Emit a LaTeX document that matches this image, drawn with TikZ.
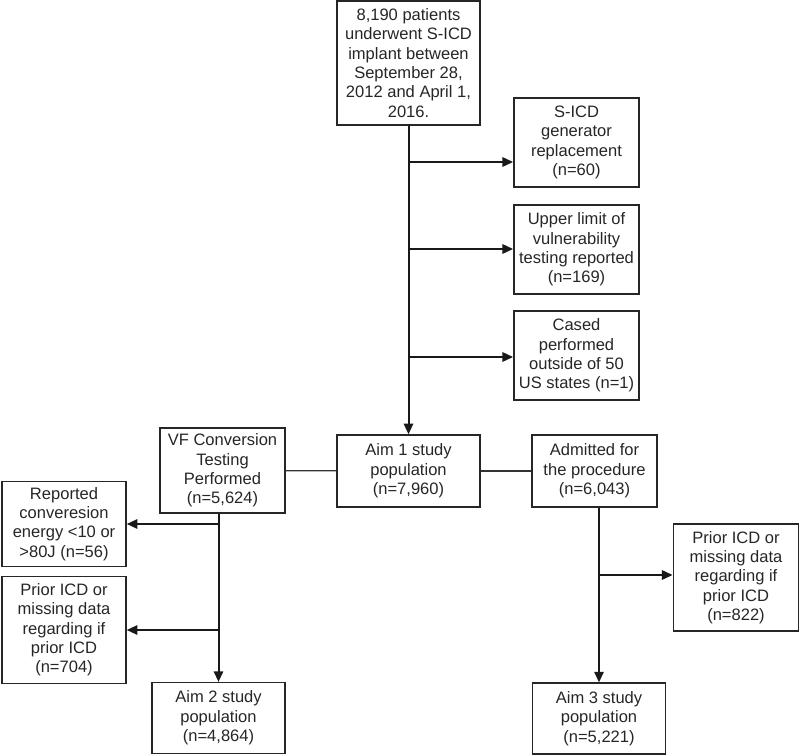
\documentclass[tikz,border=0pt]{standalone}
\usepackage{fontspec}
\setmainfont{Liberation Sans}
\usepackage{tikz}
\usetikzlibrary{arrows.meta,positioning,calc}

\begin{document}
\begin{tikzpicture}[x=0.75pt, y=-0.75pt, >={Triangle[length=8pt,width=7pt]},
    box/.style={draw=black!85,line width=1.1pt,align=center,inner sep=0pt,
      font=\fontsize{12.4}{14.5}\selectfont,text=black!85},
    trunk/.style={line width=1.5pt,draw=black!90},
    link/.style={line width=0.9pt,draw=black!80}]
  \useasboundingbox (0,0) rectangle (800,756);
  % main column
  \node[box,minimum width=107pt,minimum height=93pt] at (408.5,63) (start)
    {8,190 patients\\underwent S-ICD\\implant between\\September 28,\\2012 and April 1,\\2016.};
  \node[box,minimum width=94pt,minimum height=67pt] at (576.5,142.5) (gen)
    {S-ICD\\generator\\replacement\\(n=60)};
  \node[box,minimum width=94pt,minimum height=67pt] at (576.5,249.5) (ulv)
    {Upper limit of\\vulnerability\\testing reported\\(n=169)};
  \node[box,minimum width=94pt,minimum height=67pt] at (576.5,355.5) (outus)
    {Cased\\performed\\outside of 50\\US states (n=1)};
  \node[box,minimum width=107pt,minimum height=54pt] at (408.5,471) (aim1)
    {Aim 1 study\\population\\(n=7,960)};
  % left branch
  \node[box,minimum width=94pt,minimum height=64pt] at (222.5,470.5) (vf)
    {VF Conversion\\Testing\\Performed\\(n=5,624)};
  \node[box,minimum width=93pt,minimum height=64pt] at (64,524) (energy)
    {Reported\\converesion\\energy <10 or\\>80J (n=56)};
  \node[box,minimum width=93pt,minimum height=80pt] at (64,630) (prior2)
    {Prior ICD or\\missing data\\regarding if\\prior ICD\\(n=704)};
  \node[box,minimum width=100pt,minimum height=53pt] at (218.5,718) (aim2)
    {Aim 2 study\\population\\(n=4,864)};
  % right branch
  \node[box,minimum width=94pt,minimum height=54pt] at (594.5,471) (adm)
    {Admitted for\\the procedure\\(n=6,043)};
  \node[box,minimum width=94pt,minimum height=80pt] at (736,577.5) (prior3)
    {Prior ICD or\\missing data\\regarding if\\prior ICD\\(n=822)};
  \node[box,minimum width=100pt,minimum height=53pt] at (599,718.5) (aim3)
    {Aim 3 study\\population\\(n=5,221)};
  % branch points
  \coordinate (j1) at (408.5,162);
  \coordinate (j2) at (408.5,249);
  \coordinate (j3) at (408.5,357);
  \coordinate (j4) at (218.5,524);
  \coordinate (j5) at (218.5,630);
  \coordinate (j6) at (599,575);
  \draw[trunk,->] (start) -- (aim1);
  \draw[trunk,->] (j1) -- (j1 -| gen.west);
  \draw[trunk,->] (j2) -- (j2 -| ulv.west);
  \draw[trunk,->] (j3) -- (j3 -| outus.west);
  \draw[link] (vf) -- (aim1);
  \draw[link] (aim1) -- (adm);
  \draw[trunk,->] (aim2.north |- vf.south) -- (aim2);
  \draw[trunk,->] (j4) -- (j4 -| energy.east);
  \draw[trunk,->] (j5) -- (j5 -| prior2.east);
  \draw[trunk,->] (aim3.north |- adm.south) -- (aim3);
  \draw[trunk,->] (j6) -- (j6 -| prior3.west);
\end{tikzpicture}
\end{document}
